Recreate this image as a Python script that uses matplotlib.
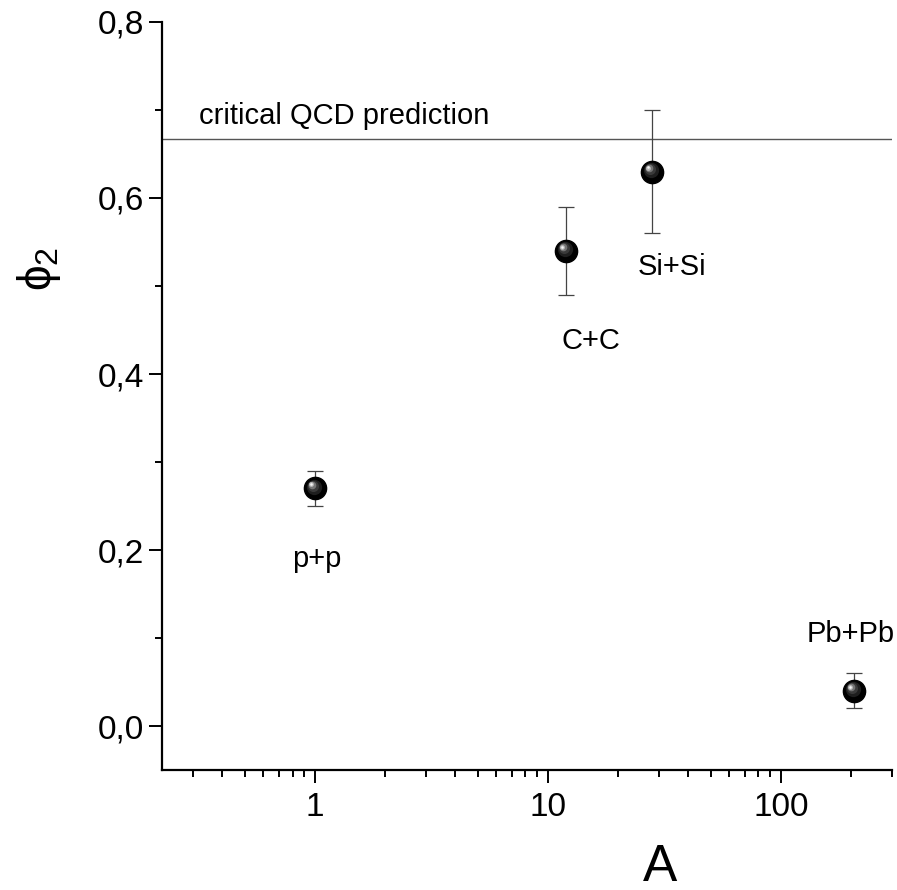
import numpy as np
import matplotlib
matplotlib.use("Agg")
import matplotlib.pyplot as plt
from matplotlib.transforms import offset_copy
from matplotlib.ticker import FixedLocator, FuncFormatter, LogLocator, NullFormatter

# data
systems = ["p+p", "C+C", "Si+Si", "Pb+Pb"]
mass_number = [1, 12, 28, 207]
phi2 = [0.27, 0.54, 0.63, 0.04]
phi2_err = [0.02, 0.05, 0.07, 0.02]
qcd_prediction = 2 / 3

# label anchor positions (data coords)
label_x = [1.02, 15.3, 34, 200]
label_y = [0.19, 0.438, 0.522, 0.104]

plt.rcParams['font.family'] = ['Liberation Sans', 'DejaVu Sans']
plt.rcParams['mathtext.fontset'] = 'custom'
plt.rcParams['mathtext.rm'] = 'Liberation Sans'
plt.rcParams['mathtext.it'] = 'Liberation Sans'

fig = plt.figure(figsize=(8.97, 8.90), dpi=100)
ax = fig.add_axes([0.1806, 0.1348, 0.8138, 0.8405])

ax.set_xscale('log')
ax.set_xlim(0.22, 300)
ax.set_ylim(-0.05, 0.8)

ax.axhline(qcd_prediction, color='#555555', lw=1.0, zorder=1)
ax.text(0.318, 0.693, 'critical QCD prediction', fontsize=21, va='center', ha='left')

ax.errorbar(mass_number, phi2, yerr=phi2_err, fmt='none', ecolor='#444444',
            elinewidth=0.9, capsize=5.5, capthick=0.9, zorder=2)

# shiny sphere markers: black ball plus offset highlights
ax.plot(mass_number, phi2, 'o', color='black', ms=16, mec='black', zorder=3)
layers = [(11, '#1e1e1e', -1.5, 1.5), (8, '#3a3a3a', -2.5, 2.5),
          (5.5, '#757575', -3.5, 3.5), (3.5, '#b8b8b8', -4, 4), (1.8, '#f5f5f5', -4.2, 4.2)]
for ms, col, dx, dy in layers:
    tr = offset_copy(ax.transData, fig=fig, x=dx, y=dy, units='dots')
    ax.plot(mass_number, phi2, 'o', color=col, ms=ms, mew=0, transform=tr, zorder=4)

for name, lx, ly in zip(systems, label_x, label_y):
    ax.text(lx, ly, name, fontsize=21, ha='center', va='center')

ax.spines['top'].set_visible(False)
ax.spines['right'].set_visible(False)
ax.spines['left'].set_linewidth(1.6)
ax.spines['bottom'].set_linewidth(1.6)

ax.xaxis.set_major_locator(FixedLocator([1, 10, 100]))
ax.xaxis.set_major_formatter(FuncFormatter(lambda v, p: '%g' % v))
ax.xaxis.set_minor_locator(LogLocator(base=10, subs=np.arange(2, 10)))
ax.xaxis.set_minor_formatter(NullFormatter())

ax.set_yticks([0.0, 0.2, 0.4, 0.6, 0.8])
ax.set_yticks([0.1, 0.3, 0.5, 0.7], minor=True)
ax.yaxis.set_major_formatter(FuncFormatter(lambda v, p: ('%.1f' % v).replace('.', ',')))

ax.tick_params(which='major', length=9.5, width=1.4, labelsize=24, direction='out')
ax.tick_params(which='minor', length=5, width=1.4, direction='out')
ax.tick_params(axis='x', which='major', pad=6)

ax.set_xlabel('A', fontsize=37)
ax.xaxis.set_label_coords(0.682, -0.097)
ax.set_ylabel(r'$\phi_2$', fontsize=33)
ax.yaxis.set_label_coords(-0.136, 0.67)

fig.savefig('out.png', dpi=100)
